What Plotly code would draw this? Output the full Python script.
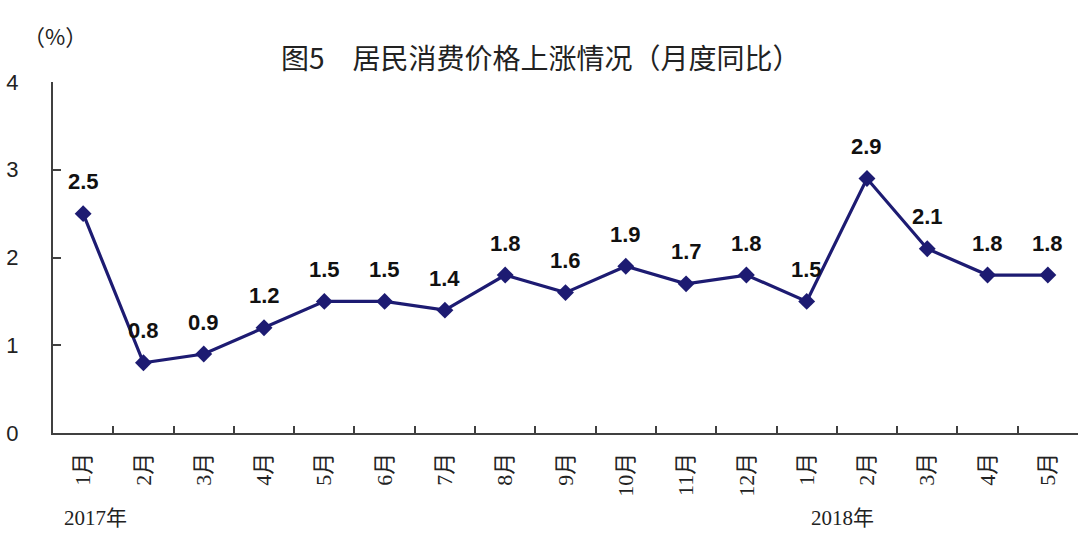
import plotly.graph_objects as go

months = ["1月", "2月", "3月", "4月", "5月", "6月", "7月", "8月", "9月", "10月", "11月", "12月",
          "1月", "2月", "3月", "4月", "5月"]
values = [2.5, 0.8, 0.9, 1.2, 1.5, 1.5, 1.4, 1.8, 1.6, 1.9, 1.7, 1.8, 1.5, 2.9, 2.1, 1.8, 1.8]
value_labels = ["2.5", "0.8", "0.9", "1.2", "1.5", "1.5", "1.4", "1.8", "1.6", "1.9", "1.7", "1.8",
                "1.5", "2.9", "2.1", "1.8", "1.8"]
years = ["2017年", "2018年"]
year_pos = [0.2, 12.6]
y_ticks = [0, 1, 2, 3, 4]

x = list(range(len(values)))
line_color = "#1d1b72"
axis_color = "#404040"
serif = "Liberation Serif, Noto Sans CJK SC, serif"
sans = "Liberation Sans, Arial, Noto Sans CJK SC, sans-serif"

L, R, T, B = 53, 2, 82, 126
W, H = 1080, 559
pw, ph = W - L - R, H - T - B

fig = go.Figure()
fig.add_trace(go.Scatter(
    x=x, y=values, mode="lines+markers",
    line=dict(color=line_color, width=3.2),
    marker=dict(symbol="diamond", size=13, color=line_color),
    hoverinfo="skip", showlegend=False,
))
fig.add_trace(go.Scatter(x=[-0.5, len(values) - 0.5], y=[0, 0], xaxis="x2", mode="markers",
                         marker=dict(opacity=0), hoverinfo="skip", showlegend=False))

annotations = []
for xi, v, t in zip(x, values, value_labels):
    annotations.append(dict(x=xi, y=v, text=f"<b>{t}</b>", showarrow=False, yshift=32,
                            xanchor="center", yanchor="middle",
                            font=dict(family=sans, size=22, color="#111111")))
for yx, yt in zip(year_pos, years):
    annotations.append(dict(x=yx, y=-(518 - (H - B)) / ph, xref="x", yref="paper", text=yt,
                            showarrow=False, xanchor="center", yanchor="middle",
                            font=dict(family=serif, size=21, color="#222222")))
annotations.append(dict(x=(541 - L) / pw, y=(H - B - 57) / ph, xref="paper", yref="paper",
                        text="图5　居民消费价格上涨情况（月度同比）", showarrow=False,
                        xanchor="center", yanchor="middle",
                        font=dict(family="Noto Sans CJK SC, sans-serif", size=28, color="#222222")))
annotations.append(dict(x=(55 - L) / pw, y=(H - B - 35) / ph, xref="paper", yref="paper",
                        text="（%）", showarrow=False, xanchor="center", yanchor="middle",
                        font=dict(family="Noto Sans CJK SC, sans-serif", size=22, color="#222222")))

fig.update_layout(
    width=W, height=H,
    margin=dict(l=L, r=R, t=T, b=B),
    paper_bgcolor="white", plot_bgcolor="white",
    annotations=annotations,
    xaxis=dict(range=[-0.5, len(values) - 0.5], tickmode="array", tickvals=x, ticktext=months,
               tickangle=-90, ticks="", showline=True, linecolor=axis_color, linewidth=2,
               showgrid=False, zeroline=False, ticklabelstandoff=9,
               tickfont=dict(family=serif, size=22, color="#222222")),
    xaxis2=dict(overlaying="x", range=[-0.5, len(values) - 0.5], tickmode="array",
                tickvals=[i - 0.5 for i in range(len(values) + 1)], ticks="inside", ticklen=7,
                tickwidth=1.5, tickcolor=axis_color, showticklabels=False, showgrid=False,
                zeroline=False, showline=False, side="bottom", anchor="y"),
    yaxis=dict(range=[0, 4], tickmode="array", tickvals=y_ticks, ticks="inside", ticklen=8,
               tickwidth=1.5, tickcolor=axis_color, showline=True, linecolor=axis_color, linewidth=2,
               showgrid=False, zeroline=False, ticklabelstandoff=28,
               tickfont=dict(family=sans, size=22, color="#222222")),
)

fig.write_html("out.html")
